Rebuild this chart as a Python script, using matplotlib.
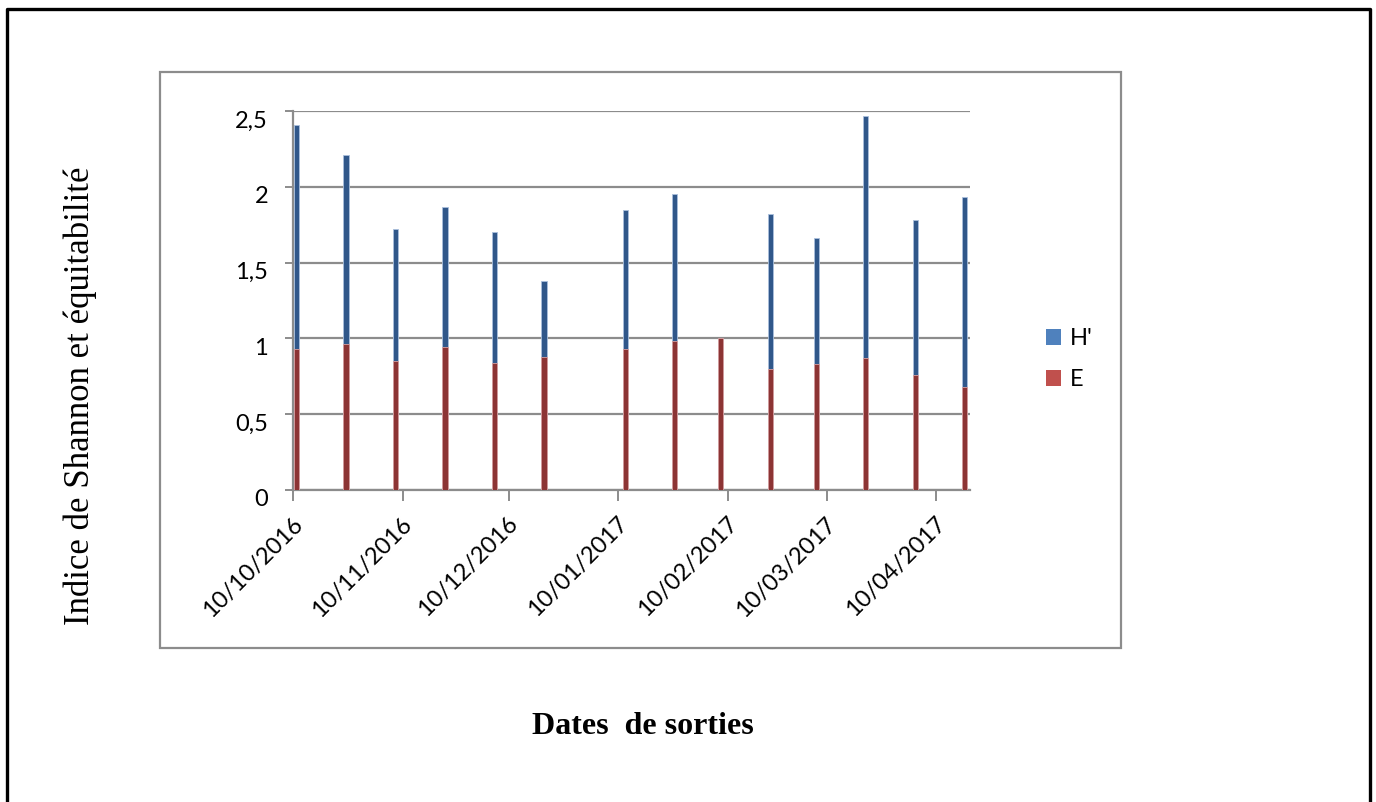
import matplotlib.pyplot as plt
import matplotlib.dates as mdates
import matplotlib.transforms as mtransforms
from matplotlib.lines import Line2D
from matplotlib.patches import Patch, Rectangle
import numpy as np

# sampling dates (every two weeks) and diversity indices
dates = ['2016-10-11', '2016-10-25', '2016-11-08', '2016-11-22', '2016-12-06',
         '2016-12-20', '2017-01-12', '2017-01-26', '2017-02-08', '2017-02-22',
         '2017-03-07', '2017-03-21', '2017-04-04', '2017-04-18']
h_shannon = [2.41, 2.21, 1.72, 1.87, 1.70, 1.38, 1.85, 1.95, 1.00, 1.82,
             1.66, 2.47, 1.78, 1.93]
equitability = [0.93, 0.96, 0.85, 0.94, 0.84, 0.88, 0.93, 0.98, 1.00, 0.80,
                0.83, 0.87, 0.76, 0.68]
tick_dates = ['2016-10-10', '2016-11-10', '2016-12-10', '2017-01-10',
              '2017-02-10', '2017-03-10', '2017-04-10']
series_names = ["H'", 'E']

W, H = 1376, 802
fig = plt.figure(figsize=(W / 100, H / 100), dpi=100)

x = mdates.datestr2num(dates)
ticks = mdates.datestr2num(tick_dates)

ax = fig.add_axes([293 / W, 1 - 490 / H, (970 - 293) / W, (490 - 111) / H])

grey = '#8c8c8c'
ax.bar(x, h_shannon, width=1.5, color='#30578a', edgecolor='#a9bfdc',
       linewidth=0.6, zorder=3)
ax.bar(x, equitability, width=1.5, color='#8c3434', edgecolor='#d9a0a0',
       linewidth=0.6, zorder=4)

ax.set_ylim(0, 2.5)
ax.set_yticks(np.arange(0, 2.51, 0.5))
ax.set_yticklabels(['0', '0,5', '1', '1,5', '2', '2,5'])
ax.set_xlim(mdates.datestr2num('2016-10-10'), mdates.datestr2num('2017-04-19 12:00'))
ax.set_xticks(ticks)
ax.set_xticklabels([d[8:10] + '/' + d[5:7] + '/' + d[0:4] for d in tick_dates],
                   rotation=45, ha='right', va='center', rotation_mode='anchor')

ax.yaxis.grid(True, color=grey, linewidth=1.6, zorder=0)
ax.set_axisbelow(True)
for side in ['top', 'right']:
    ax.spines[side].set_visible(False)
for side in ['left', 'bottom']:
    ax.spines[side].set_color(grey)
    ax.spines[side].set_linewidth(1.6)

ax.tick_params(axis='y', direction='out', length=6, width=1.4, color=grey,
               pad=12, labelsize=17)
ax.tick_params(axis='x', direction='out', length=8, width=1.4, color=grey,
               pad=14, labelsize=17)
for lab in ax.get_yticklabels() + ax.get_xticklabels():
    lab.set_family('Lato')
# front face of the 3D axis sits a little lower than the back wall
shift = mtransforms.ScaledTranslation(0, -8 / 100, fig.dpi_scale_trans)
for lab in ax.get_yticklabels():
    lab.set_transform(lab.get_transform() + shift)
shift_x = mtransforms.ScaledTranslation(6 / 100, 0, fig.dpi_scale_trans)
for lab in ax.get_xticklabels():
    lab.set_transform(lab.get_transform() + shift_x)

handles = [Patch(facecolor='#4f81bd'), Patch(facecolor='#c0504d')]
fig.legend(handles, series_names, loc='center left',
           bbox_to_anchor=(1046 / W, 1 - 359 / H), frameon=False,
           handlelength=0.65, handleheight=0.65, handletextpad=0.35,
           labelspacing=0.85, borderpad=0, borderaxespad=0,
           prop={'family': 'Lato', 'size': 17})

fig.text(80 / W, 1 - 396 / H, 'Indice de Shannon et équitabilité',
         rotation=90, ha='center', va='center', family='Liberation Serif',
         fontsize=25)
fig.text(643 / W, 1 - 727 / H, 'Dates  de sorties', ha='center', va='center',
         family='Liberation Serif', fontweight='bold', fontsize=23)

# chart area border and outer frame
fig.patches.append(Rectangle((160 / W, 1 - 648 / H), (1121 - 160) / W,
                             (648 - 72) / H, transform=fig.transFigure,
                             fill=False, edgecolor=grey, linewidth=1.6))
fig.lines.append(Line2D([7 / W, 7 / W, 1370 / W, 1370 / W],
                        [0, 1 - 9 / H, 1 - 9 / H, 0], transform=fig.transFigure,
                        color='black', linewidth=2.4))

fig.savefig('out.png', dpi=100)
